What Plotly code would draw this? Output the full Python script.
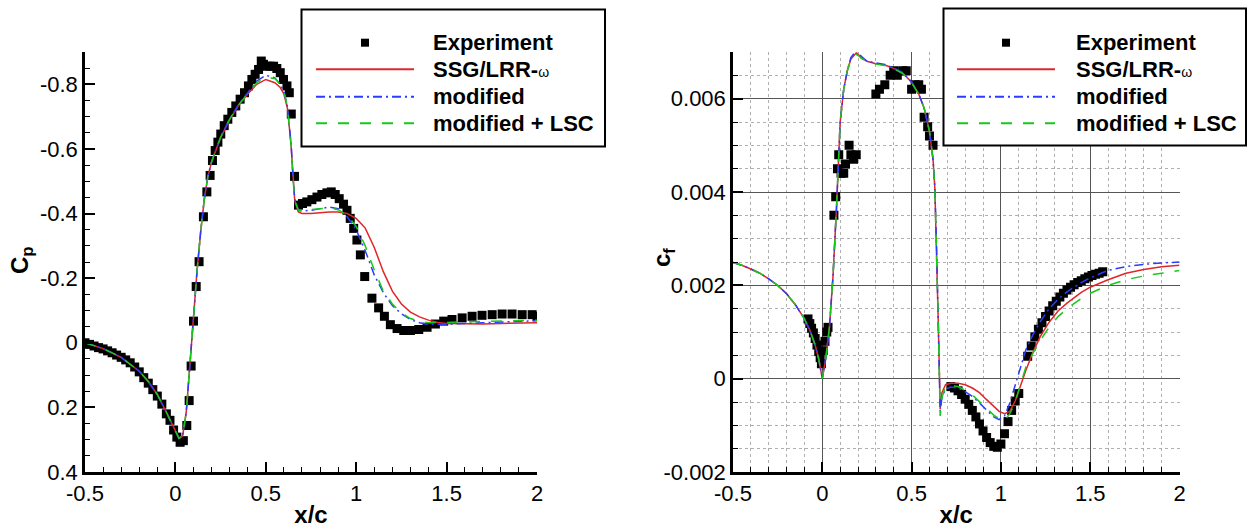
import plotly.graph_objects as go

# ---------------- data: pressure coefficient (left) ----------------
exp_cp_x = [-0.5, -0.475, -0.45, -0.425, -0.4, -0.375, -0.35, -0.325, -0.3, -0.275,
            -0.25, -0.225, -0.2, -0.175, -0.15, -0.125, -0.1, -0.075, -0.05, -0.03,
            -0.01, 0.008, 0.026, 0.044, 0.063, 0.076, 0.087, 0.1, 0.115, 0.131,
            0.155, 0.174, 0.192, 0.205, 0.22, 0.235, 0.251, 0.27, 0.29, 0.312,
            0.334, 0.358, 0.382, 0.404, 0.423, 0.441, 0.46, 0.475, 0.487, 0.506,
            0.524, 0.543, 0.561, 0.58, 0.598, 0.617, 0.63, 0.641, 0.659, 0.681,
            0.703, 0.727, 0.755, 0.783, 0.81, 0.838, 0.862, 0.884, 0.906, 0.93,
            0.949, 0.967, 0.986, 1.004, 1.023, 1.047, 1.087, 1.124, 1.156, 1.189,
            1.226, 1.263, 1.3, 1.346, 1.392, 1.438, 1.484, 1.53, 1.586, 1.641,
            1.696, 1.752, 1.807, 1.862, 1.918, 1.973, 2.0]
exp_cp = [0.0, 0.005, 0.01, 0.015, 0.019, 0.025, 0.031, 0.038, 0.045, 0.053,
          0.062, 0.075, 0.09, 0.108, 0.125, 0.145, 0.165, 0.19, 0.22, 0.24,
          0.27, 0.292, 0.308, 0.303, 0.256, 0.179, 0.072, -0.067, -0.174, -0.251,
          -0.39, -0.467, -0.518, -0.564, -0.595, -0.621, -0.646, -0.672, -0.692, -0.713,
          -0.733, -0.754, -0.774, -0.795, -0.815, -0.831, -0.846, -0.872, -0.862, -0.856,
          -0.856, -0.856, -0.849, -0.836, -0.815, -0.795, -0.774, -0.708, -0.515, -0.426,
          -0.431, -0.436, -0.443, -0.451, -0.459, -0.464, -0.467, -0.459, -0.446, -0.429,
          -0.41, -0.385, -0.354, -0.318, -0.272, -0.205, -0.138, -0.108, -0.082, -0.056,
          -0.044, -0.038, -0.038, -0.041, -0.048, -0.058, -0.067, -0.072, -0.077, -0.082,
          -0.085, -0.087, -0.089, -0.089, -0.087, -0.087, -0.082]

cp_x = [-0.5, -0.4, -0.3, -0.2, -0.15, -0.1, -0.05, 0.0, 0.02, 0.04,
        0.06, 0.08, 0.10, 0.12, 0.14, 0.16, 0.18, 0.20, 0.25, 0.30,
        0.35, 0.40, 0.45, 0.50, 0.55, 0.58, 0.60, 0.62, 0.64, 0.65,
        0.66, 0.68, 0.70, 0.75, 0.80, 0.85, 0.90, 0.95, 1.00, 1.05,
        1.10, 1.15, 1.20, 1.25, 1.30, 1.35, 1.40, 1.45, 1.50, 1.60,
        1.70, 1.80, 1.90, 2.00]
cp_ssg = [0.0, 0.018, 0.045, 0.088, 0.12, 0.16, 0.215, 0.275, 0.296, 0.288,
          0.215, 0.07, -0.09, -0.225, -0.345, -0.445, -0.515, -0.56, -0.635, -0.69,
          -0.735, -0.77, -0.80, -0.815, -0.805, -0.79, -0.77, -0.725, -0.61, -0.51,
          -0.44, -0.405, -0.40, -0.40, -0.403, -0.405, -0.405, -0.40, -0.385, -0.355,
          -0.295, -0.22, -0.16, -0.12, -0.095, -0.08, -0.07, -0.063, -0.06, -0.058,
          -0.058, -0.06, -0.061, -0.062]
cp_mod = [0.0, 0.018, 0.045, 0.088, 0.12, 0.16, 0.215, 0.275, 0.296, 0.288,
          0.215, 0.07, -0.09, -0.225, -0.345, -0.445, -0.515, -0.56, -0.637, -0.693,
          -0.738, -0.775, -0.81, -0.828, -0.82, -0.80, -0.78, -0.73, -0.615, -0.515,
          -0.445, -0.41, -0.408, -0.41, -0.415, -0.42, -0.415, -0.39, -0.35, -0.285,
          -0.21, -0.155, -0.115, -0.09, -0.072, -0.062, -0.057, -0.056, -0.057, -0.06,
          -0.062, -0.064, -0.066, -0.068]
cp_lsc = [0.0, 0.018, 0.045, 0.088, 0.12, 0.16, 0.215, 0.275, 0.296, 0.288,
          0.215, 0.07, -0.09, -0.225, -0.345, -0.445, -0.515, -0.56, -0.636, -0.692,
          -0.737, -0.772, -0.805, -0.822, -0.818, -0.80, -0.778, -0.73, -0.612, -0.512,
          -0.442, -0.41, -0.41, -0.412, -0.415, -0.418, -0.412, -0.395, -0.36, -0.30,
          -0.225, -0.16, -0.12, -0.092, -0.075, -0.066, -0.062, -0.062, -0.063, -0.065,
          -0.066, -0.068, -0.069, -0.07]

# ---------------- data: skin friction (right) ----------------
exp_cf_x = [-0.08, -0.07, -0.06, -0.05, -0.04, -0.03, -0.02, -0.012, -0.005, 0.005,
            0.015, 0.025, 0.032,
            0.065, 0.075, 0.085, 0.092, 0.105, 0.12, 0.13, 0.15, 0.16, 0.175, 0.19,
            0.30, 0.32, 0.35, 0.38, 0.40, 0.42, 0.45, 0.47, 0.50, 0.52, 0.54, 0.555,
            0.57, 0.59, 0.60, 0.62,
            0.72, 0.74, 0.76, 0.78, 0.80, 0.82, 0.84, 0.86, 0.88, 0.90,
            0.92, 0.94, 0.96, 0.98, 1.00, 1.02, 1.04, 1.06, 1.08, 1.10,
            1.15, 1.17, 1.19, 1.21, 1.23, 1.25, 1.27, 1.29, 1.31, 1.33,
            1.35, 1.37, 1.39, 1.41, 1.43, 1.45, 1.47, 1.49, 1.51, 1.53,
            1.55, 1.57]
exp_cf = [0.00128, 0.00118, 0.00108, 0.00098, 0.00086, 0.00072, 0.00058, 0.00045, 0.00032, 0.0006,
          0.0008, 0.001, 0.0011,
          0.0035, 0.0039, 0.0045, 0.0048, 0.0044, 0.0044, 0.0046, 0.0050, 0.0048, 0.0047, 0.0048,
          0.0061, 0.0062, 0.0063, 0.0065, 0.0066, 0.0065, 0.0066, 0.0066, 0.0062, 0.0063, 0.0063, 0.0062,
          0.0056, 0.0054, 0.0052, 0.0050,
          -0.00017, -0.0002, -0.00026, -0.00034, -0.00044, -0.00055, -0.00068, -0.00082, -0.00097, -0.00112,
          -0.00126, -0.00137, -0.00145, -0.00147, -0.0014, -0.00118, -0.00092, -0.00068, -0.00048, -0.00032,
          0.00048, 0.0007, 0.0009, 0.00106, 0.0012, 0.00133, 0.00145, 0.00156, 0.00166, 0.00175,
          0.00183, 0.0019, 0.00196, 0.00201, 0.00206, 0.0021, 0.00214, 0.00218, 0.00221, 0.00224,
          0.00226, 0.00229]

cf_x = [-0.5, -0.45, -0.4, -0.35, -0.3, -0.25, -0.2, -0.15, -0.1, -0.07,
        -0.04, -0.02, 0.0, 0.02, 0.04, 0.06, 0.08, 0.10, 0.12, 0.14,
        0.16, 0.18, 0.19, 0.20, 0.22, 0.25, 0.30, 0.35, 0.40, 0.45,
        0.50, 0.54, 0.57, 0.60, 0.62, 0.63, 0.64, 0.65, 0.66, 0.67,
        0.69, 0.72, 0.76, 0.80, 0.84, 0.88, 0.92, 0.96, 0.99, 1.02,
        1.05, 1.08, 1.11, 1.14, 1.18, 1.22, 1.27, 1.32, 1.37, 1.45,
        1.50, 1.60, 1.70, 1.80, 1.90, 2.00]
cf_ssg = [0.00249, 0.00243, 0.00235, 0.00226, 0.00214, 0.002, 0.00182, 0.00158, 0.00128, 0.00104,
          0.00072, 0.00042, 0.0, 0.00045, 0.0011, 0.0022, 0.0037, 0.0055, 0.0062, 0.0066,
          0.00685, 0.00695, 0.00698, 0.00695, 0.00688, 0.0068, 0.00675, 0.00672, 0.00665, 0.00655,
          0.00635, 0.0061, 0.0058, 0.0053, 0.0047, 0.0041, 0.0028, 0.0011, -0.00065, -0.0003,
          -0.00013, -0.0001, -0.0001, -0.00013, -0.0002, -0.0003, -0.00045, -0.0006, -0.0007, -0.00075,
          -0.0007, -0.00048, -0.00015, 0.00018, 0.00057, 0.0009, 0.00121, 0.00145, 0.00162, 0.00185,
          0.00196, 0.00212, 0.00226, 0.00234, 0.0024, 0.00243]
cf_mod = [0.00249, 0.00243, 0.00235, 0.00226, 0.00214, 0.002, 0.00182, 0.00158, 0.00128, 0.00104,
          0.00072, 0.00042, 0.0, 0.00045, 0.0011, 0.0022, 0.0037, 0.0055, 0.0062, 0.0066,
          0.00688, 0.007, 0.00703, 0.007, 0.0069, 0.0068, 0.00676, 0.00673, 0.00666, 0.00656,
          0.00636, 0.0061, 0.0058, 0.0053, 0.0047, 0.0041, 0.0028, 0.0011, -0.0007, -0.0004,
          -0.00022, -0.00018, -0.0002, -0.00028, -0.00038, -0.00052, -0.00067, -0.00082, -0.00088, -0.0008,
          -0.00052, -0.00015, 0.00025, 0.00062, 0.00095, 0.00122, 0.0015, 0.0017, 0.00186, 0.00206,
          0.00216, 0.00232, 0.0024, 0.00245, 0.00248, 0.0025]
cf_lsc = [0.00249, 0.00243, 0.00235, 0.00226, 0.00214, 0.002, 0.00182, 0.00158, 0.00128, 0.00104,
          0.00072, 0.00042, 0.0, 0.00045, 0.0011, 0.0022, 0.0037, 0.0055, 0.0062, 0.0066,
          0.00683, 0.00692, 0.00695, 0.00693, 0.00686, 0.0068, 0.00674, 0.00671, 0.00664, 0.00654,
          0.00634, 0.0061, 0.0058, 0.0053, 0.0047, 0.0041, 0.0028, 0.0011, -0.0008, -0.0004,
          -0.00018, -0.00015, -0.00017, -0.00025, -0.00035, -0.0005, -0.00065, -0.00078, -0.00086, -0.0009,
          -0.00075, -0.0005, -0.00012, 0.00025, 0.00055, 0.00082, 0.0011, 0.00133, 0.0015, 0.00172,
          0.00183, 0.002, 0.00212, 0.0022, 0.00226, 0.00232]

legend_labels = ["Experiment", "SSG/LRR-ω", "modified", "modified + LSC"]

x_ticks = [-0.5, 0, 0.5, 1, 1.5, 2]
x_ticktext = ["-0.5", "0", "0.5", "1", "1.5", "2"]
cp_ticks = [-0.8, -0.6, -0.4, -0.2, 0, 0.2, 0.4]
cp_ticktext = ["-0.8", "-0.6", "-0.4", "-0.2", "0", "0.2", "0.4"]
cf_ticks = [-0.002, 0, 0.002, 0.004, 0.006]
cf_ticktext = ["-0.002", "0", "0.002", "0.004", "0.006"]

# ---------------- styling ----------------
W, H = 1247, 528
FONT = "Liberation Sans, Arial, Helvetica, sans-serif"
RED, BLUE, GREEN = "#e0262a", "#2a3cff", "#18c818"
DASHDOT = "9px,4px,2px,4px"
DASH = "11px,11px"
LW = 1.5
MS = 9


def px(x):
    return x / W


def py(y):
    return 1 - y / H


fig = go.Figure()

panels = [
    ("x", "y", exp_cp_x, exp_cp, cp_x, [cp_ssg, cp_mod, cp_lsc]),
    ("x2", "y2", exp_cf_x, exp_cf, cf_x, [cf_ssg, cf_mod, cf_lsc]),
]
styles = [(RED, "solid"), (BLUE, DASHDOT), (GREEN, DASH)]
for xa, ya, ex, ey, cx, series in panels:
    fig.add_trace(go.Scatter(x=ex, y=ey, mode="markers", name=legend_labels[0],
                             marker=dict(symbol="square", size=MS, color="black"),
                             xaxis=xa, yaxis=ya, showlegend=False))
    for name, vals, (col, dash) in zip(legend_labels[1:], series, styles):
        fig.add_trace(go.Scatter(x=cx, y=vals, mode="lines", name=name,
                                 line=dict(color=col, width=LW, dash=dash),
                                 xaxis=xa, yaxis=ya, showlegend=False))

tickfont = dict(family=FONT, size=22, color="black")
titlefont = dict(family=FONT, size=24, color="black")

common_axis = dict(showline=True, linecolor="black", linewidth=2.5, ticks="inside",
                   ticklen=10, tickwidth=2, tickcolor="black", tickfont=tickfont,
                   zeroline=False, automargin=False, mirror=False)

fig.update_layout(
    width=W, height=H,
    margin=dict(l=0, r=0, t=0, b=0),
    paper_bgcolor="white", plot_bgcolor="white",
    showlegend=False,
    xaxis=dict(domain=[px(85), px(537)], range=[-0.5, 2], tickvals=x_ticks, ticktext=x_ticktext,
               showgrid=False, anchor="y",
               minor=dict(dtick=0.1, tick0=0, ticks="inside", ticklen=5, tickwidth=1,
                          tickcolor="black", showgrid=False),
               title=dict(text="<b>x/c</b>", font=titlefont, standoff=5),
               **common_axis),
    yaxis=dict(domain=[1 - 472 / H, 1 - 52 / H], range=[0.4, -0.9], tickvals=cp_ticks,
               ticktext=cp_ticktext, showgrid=False, anchor="x",
               minor=dict(dtick=0.05, tick0=0, ticks="inside", ticklen=5, tickwidth=1,
                          tickcolor="black", showgrid=False),
               **common_axis),
    xaxis2=dict(domain=[px(733), px(1179.5)], range=[-0.5, 2], tickvals=x_ticks,
                ticktext=x_ticktext, anchor="y2",
                showgrid=True, gridcolor="#555555", gridwidth=1,
                minor=dict(dtick=0.1, tick0=0, ticks="inside", ticklen=5, tickwidth=1,
                           tickcolor="black", showgrid=True, gridcolor="#b0b0b0",
                           griddash="dot", gridwidth=1),
                title=dict(text="<b>x/c</b>", font=titlefont, standoff=5),
                **common_axis),
    yaxis2=dict(domain=[1 - 472 / H, 1 - 52 / H], range=[-0.002, 0.007], tickvals=cf_ticks,
                ticktext=cf_ticktext, anchor="x2",
                showgrid=True, gridcolor="#555555", gridwidth=1,
                minor=dict(dtick=0.0005, tick0=0, ticks="inside", ticklen=5, tickwidth=1,
                           tickcolor="black", showgrid=True, gridcolor="#b0b0b0",
                           griddash="dot", gridwidth=1),
                **common_axis),
)

# ---------------- y-axis titles (placed as in the reference) ----------------
annotations = [
    dict(xref="paper", yref="paper", x=px(21), y=py(260), xanchor="center", yanchor="middle",
         text="<b>C<sub>p</sub></b>", textangle=-90, showarrow=False, font=titlefont),
    dict(xref="paper", yref="paper", x=px(663), y=py(258), xanchor="center", yanchor="middle",
         text="<b>c<sub>f</sub></b>", textangle=-90, showarrow=False, font=titlefont),
]

# ---------------- hand-drawn legends (one per panel) ----------------
shapes = []
rows = [42.7, 69.3, 96.7, 123.3]
legend_specs = [
    dict(box=(301.5, 9.5, 605, 146.5), sample=(316, 414), text_x=431),
    dict(box=(943.5, 8.5, 1246, 145.5), sample=(957, 1055), text_x=1074),
]
texts = ["<b>Experiment</b>",
         "<b>SSG/LRR-</b><span style='font-size:14px'>ω</span>",
         "<b>modified</b>",
         "<b>modified + LSC</b>"]
for spec in legend_specs:
    x0, y0, x1, y1 = spec["box"]
    shapes.append(dict(type="rect", xref="paper", yref="paper", x0=px(x0), x1=px(x1),
                       y0=py(y1), y1=py(y0), line=dict(color="black", width=2),
                       fillcolor="white", layer="above"))
    sx0, sx1 = spec["sample"]
    mx = (sx0 + sx1) / 2
    shapes.append(dict(type="rect", xref="paper", yref="paper", x0=px(mx - 4), x1=px(mx + 4),
                       y0=py(rows[0] + 4), y1=py(rows[0] - 4), line=dict(width=0),
                       fillcolor="black", layer="above"))
    for r, (col, dash) in zip(rows[1:], styles):
        shapes.append(dict(type="line", xref="paper", yref="paper", x0=px(sx0), x1=px(sx1),
                           y0=py(r), y1=py(r), line=dict(color=col, width=2, dash=dash),
                           layer="above"))
    for r, t in zip(rows, texts):
        annotations.append(dict(xref="paper", yref="paper", x=px(spec["text_x"]), y=py(r),
                                xanchor="left", yanchor="middle", text=t, showarrow=False,
                                font=dict(family=FONT, size=22, color="black")))

fig.update_layout(shapes=shapes, annotations=annotations)

fig.write_html("out.html", config={"displayModeBar": False},
               post_script="document.body.style.margin='0px';")
